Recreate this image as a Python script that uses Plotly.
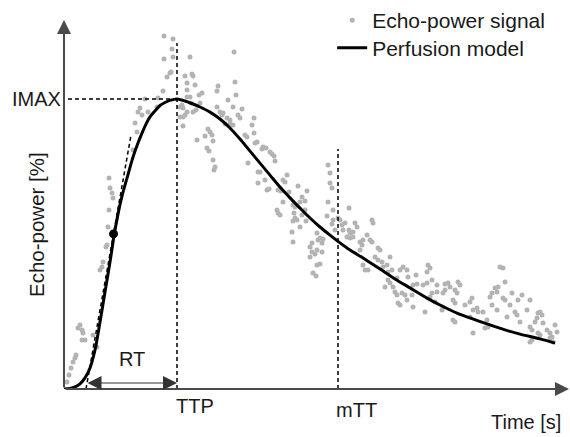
import plotly.graph_objects as go

# ---------------- data (time in s, echo-power in %) ----------------
curve_t = [0, 1.2, 2.2, 3.2, 4.2, 5.2, 6.2, 7.2, 8.2, 9.2, 10.0, 10.8, 11.6, 12.6, 13.8,
           14.8, 15.6, 16.4, 17.2, 18.2, 19.2, 20.2, 21.2, 22.6, 24.2, 25.8, 27.2, 29.2,
           31.2, 33.2, 35.2, 37.2, 39.2, 41.2, 43.2, 45.2, 47.2, 49.2, 51.2, 53.2, 55.2,
           57.2, 59.8, 63.2, 66.2, 69.2, 72.6, 75.2, 78.6, 81.2, 84.6, 88.2, 91.2, 95.2, 98.2]
curve_p = [0, 0.2, 0.7, 1.7, 3.7, 7.0, 13.0, 22.3, 32.3, 42.3, 51.0, 58.3, 64.3, 70.3, 77.3,
           82.0, 85.3, 88.3, 90.7, 92.7, 94.5, 95.5, 96.2, 96.7, 96.0, 95.0, 94.0, 92.3,
           90.0, 87.0, 83.3, 79.3, 75.3, 71.3, 67.3, 63.7, 60.3, 57.0, 54.0, 51.3, 48.7,
           46.3, 43.7, 40.0, 36.7, 33.7, 30.3, 28.0, 25.3, 23.7, 21.7, 19.7, 18.3, 16.7, 15.3]

signal_t = [
    20.4, 20.0, 21.8, 21.6, 20.0, 21.8, 25.2, 34.0, 21.2, 20.6, 21.4, 24.2, 25.6, 25.8, 26.2,
    24.6, 24.6, 19.8, 18.8, 16.2, 30.6, 30.8, 34.2, 27.0, 27.6, 24.6, 25.2, 34.4, 32.8, 23.2,
    23.6, 25.4, 26.4, 27.2, 30.6, 31.2, 31.6, 31.8, 33.8, 35.6, 25.8, 23.2, 23.8, 23.8, 32.6,
    33.2, 32.2, 33.2, 33.8, 34.8, 35.2, 38.0, 37.6, 28.8, 29.2, 29.6, 28.2, 26.6, 29.8, 36.2,
    36.6, 38.0, 38.6, 39.8, 40.4, 15.2, 14.8, 15.6, 16.8, 14.2, 14.6, 13.8, 18.6, 23.8, 24.2,
    24.6, 28.6, 29.0, 29.8, 30.2, 30.0,
    9.0, 9.2, 9.6, 9.8, 9.0, 8.8, 8.4, 8.6, 7.8, 7.6, 7.2, 3.2, 2.8, 3.6, 3.8, 4.2, 3.6, 2.4,
    1.8, 2.2, 6.6, 6.2, 5.8, 1.0, 0.6, 1.4,
    38.2, 39.6, 41.2, 41.6, 42.0, 42.2, 36.8, 38.8, 39.2, 40.2, 38.8, 44.6, 43.8, 44.2, 40.6,
    41.0, 42.8, 43.4, 45.0, 46.8, 48.6, 47.6, 48.2, 47.2, 43.8, 42.6, 42.8, 43.2, 45.8, 46.2,
    46.0, 47.6, 48.2, 46.2, 46.6, 45.8, 47.2, 48.4, 45.6, 45.8, 50.6, 50.8, 51.2, 49.6, 49.2,
    51.6, 51.8, 49.6, 50.2, 49.2, 50.6, 51.6, 50.6, 51.2, 49.8, 50.4, 52.8, 53.2, 53.2, 53.6,
    52.8, 53.8, 52.6, 53.8, 53.6, 54.8, 55.2, 55.6, 54.2, 56.6, 57.0, 57.0,
    56.2, 57.2, 55.8, 57.2, 57.8, 58.2, 58.6, 57.8, 59.2, 59.6, 59.2, 59.8, 60.6, 61.2, 61.6,
    61.6, 61.8, 62.8, 63.2, 62.2, 62.8, 63.6, 65.2, 59.8, 60.2, 60.8, 63.8, 64.6, 64.8, 65.6,
    67.2, 67.8, 68.6, 68.8, 66.6, 64.8, 65.2, 64.2, 70.4, 70.6, 72.6, 72.8, 73.2, 72.6, 73.6,
    74.6, 76.2, 76.8, 78.8, 79.2, 87.2, 87.8, 88.2, 86.2, 86.8,
    65.8, 66.2, 66.6, 66.8, 67.2, 69.8, 67.6, 68.2, 69.6, 68.6, 69.8, 71.8, 72.2, 73.2, 73.6,
    74.6, 74.2, 75.8, 76.2, 77.2, 75.8, 75.6, 78.2, 78.6, 77.8, 78.2, 78.2, 77.8, 80.2, 81.2,
    81.6, 81.8, 82.6, 82.8, 81.2, 81.8, 83.8, 84.6, 84.8, 84.2, 85.2, 85.6, 86.6, 85.6, 86.6,
    87.8, 88.2, 89.6, 89.2, 88.6, 90.2, 90.6, 90.8, 91.6, 91.2, 92.6, 93.2, 93.2, 93.6, 94.2,
    94.6, 94.8, 95.2, 95.6, 94.8, 95.2, 93.6, 93.2, 95.8, 96.6, 97.2, 97.6, 98.2, 98.6, 97.2,
    97.8]
signal_p = [
    124.0, 117.7, 116.7, 113.3, 110.0, 110.7, 110.7, 112.3, 105.3, 104.0, 105.7, 104.3, 105.0,
    104.3, 101.3, 102.0, 99.7, 99.3, 97.0, 96.7, 99.3, 101.0, 102.3, 98.0, 98.7, 97.3, 97.3,
    98.0, 96.3, 94.0, 94.7, 95.3, 93.0, 95.3, 94.0, 92.3, 91.3, 92.0, 94.0, 93.3, 92.3, 90.7,
    90.7, 87.7, 90.3, 89.7, 88.3, 88.3, 88.0, 91.3, 90.3, 90.3, 88.0, 86.7, 85.7, 84.7, 84.3,
    83.0, 82.7, 84.7, 84.0, 85.3, 82.3, 80.7, 80.3, 93.7, 92.3, 91.3, 92.3, 88.7, 85.7, 79.7,
    94.0, 93.7, 91.3, 92.3, 80.3, 79.3, 76.3, 74.0, 73.0,
    70.3, 67.0, 65.3, 63.7, 59.7, 54.0, 47.3, 48.0, 42.3, 40.7, 39.7, 21.3, 20.3, 19.7, 18.7,
    16.3, 16.3, 11.3, 9.0, 10.3, 14.0, 14.7, 18.0, 4.7, 2.3, 7.0,
    82.0, 80.0, 79.0, 78.3, 77.7, 76.0, 75.3, 72.3, 72.3, 69.7, 68.7, 71.3, 69.7, 69.0, 66.3,
    66.7, 66.3, 66.0, 65.7, 67.7, 66.0, 64.0, 62.7, 62.3, 62.3, 59.7, 58.7, 58.0, 61.3, 60.7,
    58.7, 58.0, 59.7, 57.0, 56.3, 56.0, 54.0, 56.0, 52.3, 49.0, 52.0, 49.7, 50.3, 48.7, 47.3,
    48.7, 50.0, 45.7, 45.0, 44.0, 46.3, 45.7, 41.3, 41.7, 38.7, 37.7, 74.7, 72.0, 68.7, 67.0,
    62.3, 59.7, 57.7, 56.3, 55.0, 57.0, 56.3, 54.7, 53.0, 50.7, 53.0, 60.3,
    55.3, 52.0, 53.0, 50.3, 50.7, 55.3, 54.0, 52.3, 49.0, 48.0, 46.3, 49.7, 51.3, 49.7, 49.0,
    56.3, 55.3, 47.0, 46.3, 44.0, 43.0, 42.3, 44.0, 41.3, 39.7, 39.7, 40.7, 41.3, 39.0, 39.7,
    39.7, 40.7, 39.7, 37.3, 37.0, 36.3, 35.3, 34.0, 38.0, 35.0, 35.3, 41.3, 40.3, 39.0, 36.3,
    34.7, 35.0, 35.3, 35.7, 34.7, 40.7, 40.3, 35.7, 33.7, 34.0,
    34.0, 32.3, 31.3, 28.7, 28.0, 34.7, 32.0, 31.3, 31.3, 29.7, 27.3, 34.7, 25.7, 30.7, 32.0,
    32.3, 29.0, 32.0, 33.0, 34.0, 27.3, 26.3, 33.0, 32.0, 29.7, 28.7, 22.3, 23.0, 28.0, 29.0,
    30.3, 26.3, 27.0, 25.7, 24.0, 18.7, 25.7, 23.0, 20.7, 20.3, 30.7, 32.0, 32.3, 28.0, 26.3,
    30.3, 29.7, 32.0, 28.0, 24.0, 25.7, 24.7, 29.7, 31.3, 22.3, 26.3, 29.7, 20.7, 19.7, 22.3,
    23.7, 25.3, 25.7, 24.7, 18.7, 18.0, 16.3, 15.7, 22.0, 19.7, 18.7, 17.3, 21.3, 19.0, 17.0,
    15.7]

# characteristic values of the perfusion model
IMAX = 96.7          # maximum intensity (%)
TTP = 22.6           # time to peak (s)
MTT = 54.8           # mean transit time (s)
INFL_T, INFL_P = 9.9, 51.7   # inflection point of the wash-in
RT_START = 4.4       # intercept of the tangent with the time axis
TANGENT_END_T = 13.4
TTP_LINE_TOP = 115.3
MTT_LINE_TOP = 80.0
RT_LEVEL = 2.0
X_MAX, Y_MAX = 101.2, 123.0

FONT = "Liberation Sans, Arial, Helvetica, sans-serif"
TXT = "#1a1a1a"

fig = go.Figure()

fig.add_trace(go.Scatter(
    x=signal_t, y=signal_p, mode="markers", name="Echo-power signal",
    marker=dict(size=5, color="#b3b3b3"), cliponaxis=False, legend="legend"))
fig.add_trace(go.Scatter(
    x=curve_t, y=curve_p, mode="lines", name="Perfusion model",
    line=dict(color="black", width=3, shape="spline", smoothing=0.8), cliponaxis=False,
    legend="legend2"))

slope = INFL_P / (INFL_T - RT_START)
tan_end_p = slope * (TANGENT_END_T - RT_START)
dash = dict(color="black", width=1.5, dash="4px,3px")
fig.add_trace(go.Scatter(x=[RT_START, TANGENT_END_T], y=[0, tan_end_p], mode="lines",
                         line=dash, showlegend=False, hoverinfo="skip"))
fig.add_trace(go.Scatter(x=[INFL_T], y=[INFL_P], mode="markers",
                         marker=dict(size=9, color="black"), showlegend=False))

shapes = [
    dict(type="line", x0=TTP, x1=TTP, y0=0, y1=TTP_LINE_TOP, line=dash),
    dict(type="line", x0=MTT, x1=MTT, y0=0, y1=MTT_LINE_TOP, line=dash),
    dict(type="line", x0=0.8, x1=TTP, y0=IMAX, y1=IMAX, line=dash),
]
for s in shapes:
    s.update(xref="x", yref="y", layer="above")

ann = [
    # axes with arrowheads
    dict(x=X_MAX - 0.2, y=0, ax=0, ay=0, axref="x", ayref="y", text="", showarrow=True,
         arrowhead=2, arrowsize=1.4, arrowwidth=2, arrowcolor="#4a4a4a", standoff=0),
    dict(x=0, y=Y_MAX, ax=0, ay=0, axref="x", ayref="y", text="", showarrow=True,
         arrowhead=2, arrowsize=1.4, arrowwidth=2, arrowcolor="#4a4a4a", standoff=0),
    # RT double arrow
    dict(x=TTP, y=RT_LEVEL, ax=RT_START, ay=RT_LEVEL, axref="x", ayref="y", text="",
         showarrow=True, arrowhead=2, arrowside="end+start", arrowsize=2.8, arrowwidth=1,
         arrowcolor="#333333", standoff=0, startstandoff=0, startarrowhead=2,
         startarrowsize=2.8),
    dict(x=(RT_START + TTP) / 2, y=10, text="RT", showarrow=False,
         font=dict(size=20, color=TXT)),
    dict(x=0, y=IMAX, text="IMAX", showarrow=False, xanchor="right", xshift=-1,
         font=dict(size=20, color=TXT)),
    dict(x=TTP, y=0, text="TTP", showarrow=False, xanchor="left", yanchor="top",
         xshift=-3, yshift=-4, font=dict(size=20, color=TXT)),
    dict(x=MTT, y=0, text="mTT", showarrow=False, xanchor="left", yanchor="top",
         xshift=-4, yshift=-8, font=dict(size=20, color=TXT)),
    dict(x=99.8, y=0, text="Time [s]", showarrow=False, xanchor="right", yanchor="top",
         yshift=-20, font=dict(size=20, color=TXT)),
]
for a in ann:
    a.update(xref="x", yref="y")
ann.append(dict(xref="paper", yref="paper", x=-28 / 506, y=164 / 369,
                text="Echo-power [%]", textangle=-90, showarrow=False,
                xanchor="center", yanchor="middle", font=dict(size=20.5, color=TXT)))

leg_common = dict(xanchor="left", yanchor="top", bgcolor="rgba(0,0,0,0)",
                  font=dict(size=21, color=TXT), itemwidth=30)

fig.update_layout(
    width=570, height=437,
    margin=dict(l=64, r=0, t=20, b=48),
    paper_bgcolor="white", plot_bgcolor="white",
    font=dict(family=FONT, color=TXT),
    xaxis=dict(range=[0, X_MAX], visible=False),
    yaxis=dict(range=[0, Y_MAX], visible=False),
    shapes=shapes, annotations=ann,
    showlegend=True,
    legend=dict(x=0.53, y=1.0556, **leg_common),
    legend2=dict(x=0.53, y=0.9797, **leg_common),
)

fig.write_html("out.html", config={"displayModeBar": False},
               post_script="document.body.style.margin='0px';")
